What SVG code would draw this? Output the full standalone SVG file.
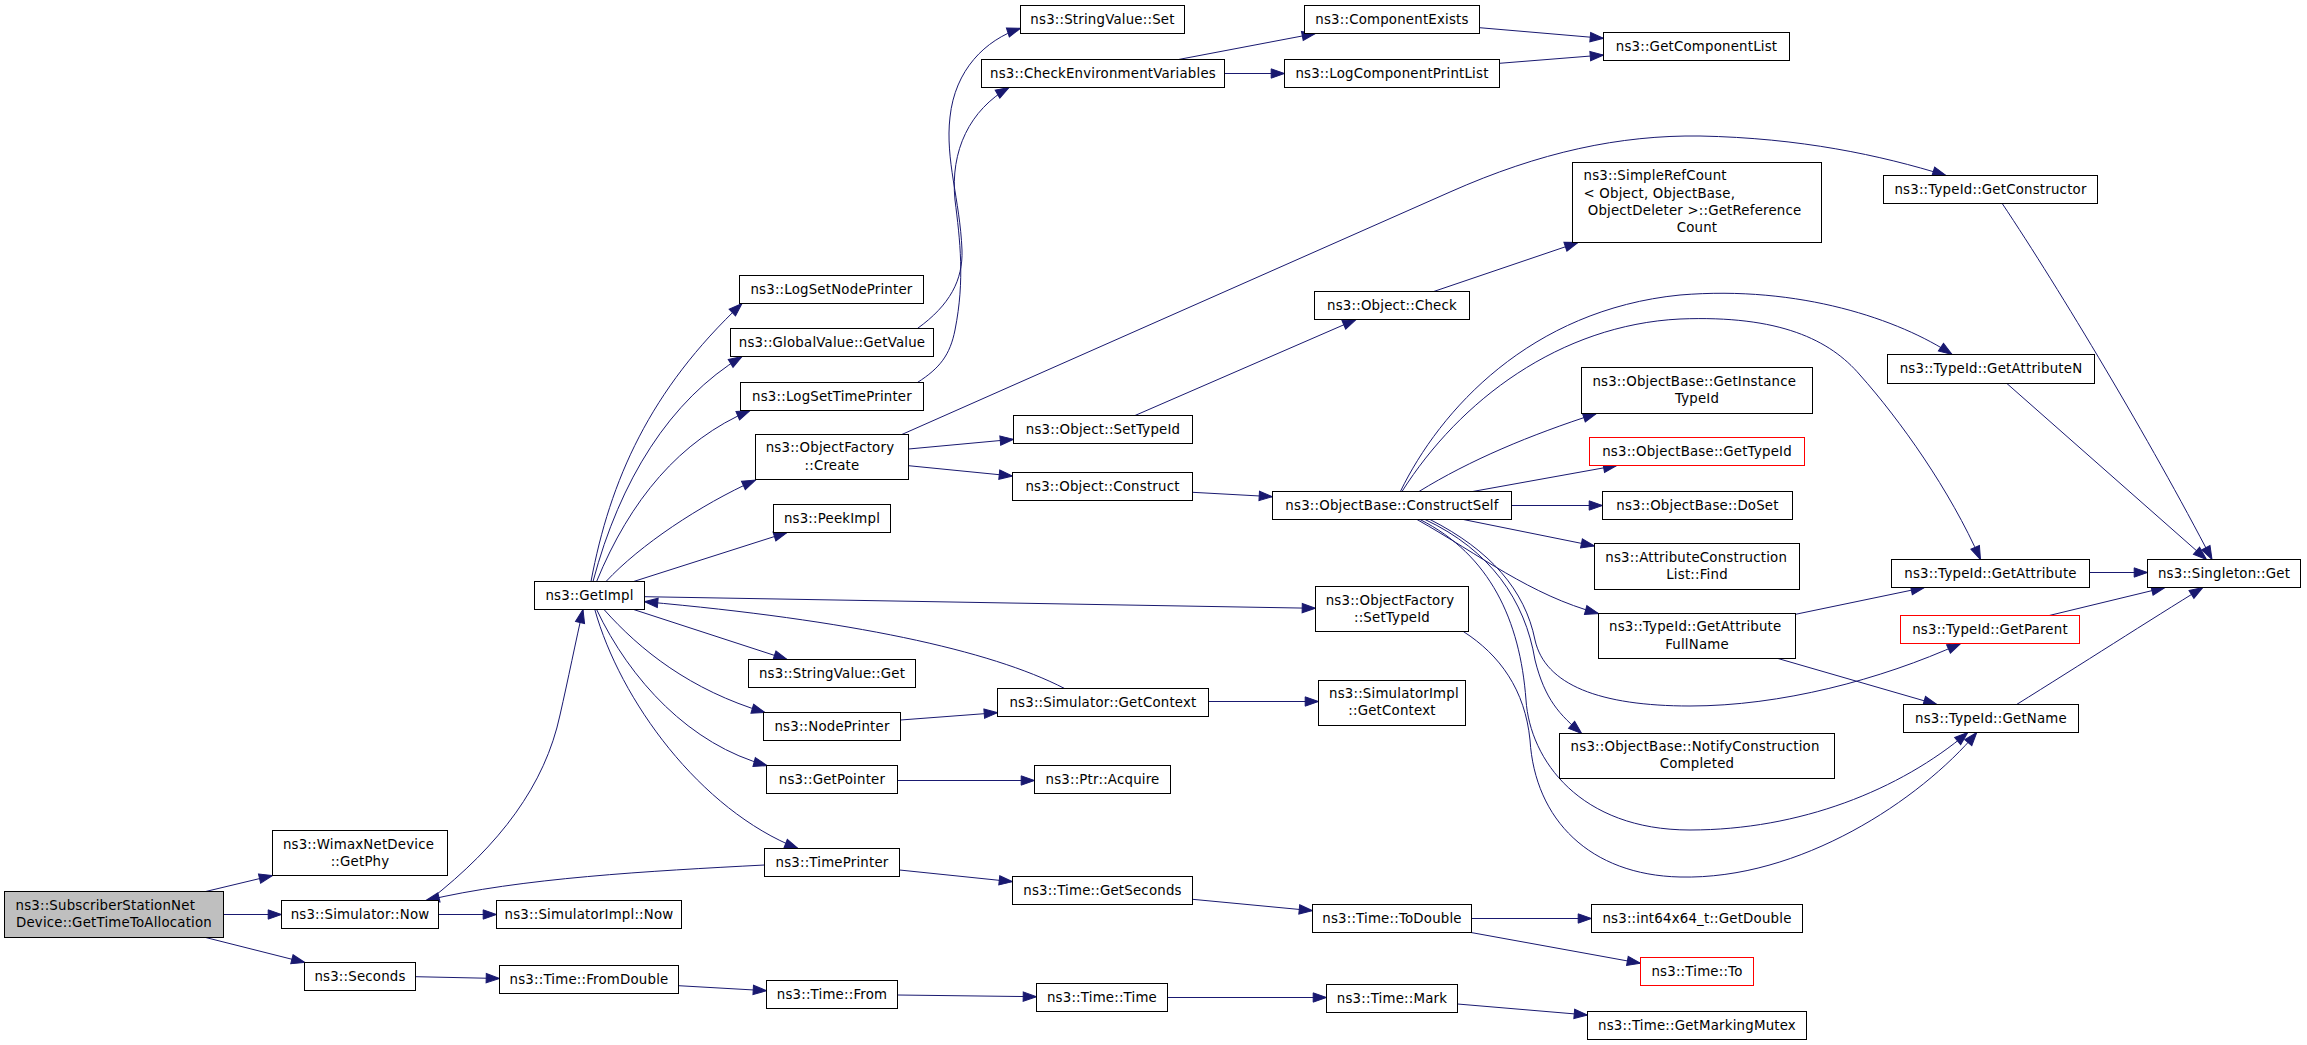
<svg xmlns="http://www.w3.org/2000/svg" width="2307" height="1045" viewBox="0 0 2307 1045">
<style>
.n rect{fill:#fff;stroke:#000;stroke-width:1}
.n.root rect{fill:#bfbfbf}
.n.red rect{stroke:#ff0000}
.n text{font-family:"DejaVu Sans",sans-serif;font-size:13.33px;letter-spacing:0.2px;fill:#000}
.n text.c{text-anchor:middle}
.e path{fill:none;stroke:#191970;stroke-width:1;marker-end:url(#a)}
</style>
<defs>
<marker id="a" markerUnits="userSpaceOnUse" markerWidth="16" markerHeight="12" refX="13.3" refY="4.65" orient="auto" overflow="visible">
<path d="M0,0 L13.3,4.65 L0,9.3 z" fill="#191970" stroke="#191970" stroke-width="1"/>
</marker>
</defs>
<rect x="0" y="0" width="2307" height="1045" fill="#fff"/>
<g id="edges" class="e">
<path d="M205.7,891.5 L272.5,875.5"/>
<path d="M224,914.5 L281.5,914.5"/>
<path d="M205.7,937.5 L304.8,962.5"/>
<path d="M438.5,914.5 L496.5,914.5"/>
<path d="M415.5,976.7 L499.5,978.5"/>
<path d="M429,900.5 C500,845 545,785 560,715 C568,680 576,640 583,609.5"/>
<path d="M764.5,865 C650,871 520,878 426,900.5"/>
<path d="M591,581.5 C610,480 650,390 742,303.5"/>
<path d="M593,581.5 C620,480 670,400 742,356.5"/>
<path d="M596.6,581.5 C630,500 680,440 750,410.5"/>
<path d="M606,581.5 C640,545 700,505 755.5,480"/>
<path d="M633.6,581.5 L787.1,532.5"/>
<path d="M633.6,609.5 L787.1,659.5"/>
<path d="M644.5,596.7 L1315.5,608.3"/>
<path d="M1064.6,688.5 C990,650 850,620 644.5,601.7"/>
<path d="M604,609.5 C640,650 690,690 765,712.5"/>
<path d="M596.6,609.5 C630,680 690,745 767,765.5"/>
<path d="M594.8,609.5 C620,700 700,810 798,848.5"/>
<path d="M900.5,720 L997.5,712.7"/>
<path d="M897.5,780.5 L1034.5,780.5"/>
<path d="M899.5,870 L1012.5,881.7"/>
<path d="M678.5,985.7 L766.5,990.7"/>
<path d="M897.5,995 L1036.5,996.7"/>
<path d="M1208.5,701.5 L1318.5,701.5"/>
<path d="M1192.5,899.3 L1312.5,910.7"/>
<path d="M1471.5,918.5 L1591.5,918.5"/>
<path d="M1471,932.5 L1640.5,963.3"/>
<path d="M1167.5,997.5 L1326.5,997.5"/>
<path d="M1457.5,1004 L1587.5,1015"/>
<path d="M908.5,449 L1013.5,439.3"/>
<path d="M908.5,465.7 L1012.5,476"/>
<path d="M901.8,434.5 L1450,192 C1540,152 1620,135 1700,136 C1800,138 1880,155 1946,175.5"/>
<path d="M917.4,382.5 C940,368 950,355 955,330 C965,280 960,240 955,200 C950,150 970,110 1009,87.5"/>
<path d="M917.4,328.5 C950,305 963,280 962,250 C960,200 945,160 950,117 C955,70 985,40 1020.5,28.3"/>
<path d="M1135,415.5 L1356,319.5"/>
<path d="M1433.7,291.5 L1578,242.5"/>
<path d="M1192.5,492.3 L1272.5,496.7"/>
<path d="M1419,491.5 C1470,460 1530,435 1596.5,413.5"/>
<path d="M1472.6,491.5 L1616.8,465.5"/>
<path d="M1511.5,505.5 L1602.5,505.5"/>
<path d="M1463.3,519.5 L1594.5,546"/>
<path d="M1417,519.5 C1480,555 1530,595 1598.5,613.5"/>
<path d="M1400.4,491.5 C1440,410 1530,310 1680,295 C1800,285 1900,320 1952,354.5"/>
<path d="M1402,491.5 C1460,400 1560,325 1680,319 C1780,315 1830,340 1860,375 C1900,420 1950,490 1980.5,559.5"/>
<path d="M2006.9,383.5 L2206.5,559.5"/>
<path d="M2002.2,203.5 C2060,290 2150,440 2212,559.5"/>
<path d="M2089.5,572.5 L2147.5,572.5"/>
<path d="M2049.2,615.5 L2164.9,587.5"/>
<path d="M2016.6,704.5 C2080,665 2150,620 2202.8,587.5"/>
<path d="M1795.5,614.3 L1924.4,587.5"/>
<path d="M1778,658.5 L1937,704.5"/>
<path d="M1430,519.5 C1490,550 1525,590 1535,640 C1545,685 1600,706 1690,706 C1780,706 1880,680 1960.6,643.5"/>
<path d="M1425,519.5 C1490,550 1525,600 1535,660 C1545,700 1560,715 1581.7,733.5"/>
<path d="M1420,519.5 C1490,555 1520,620 1526,700 C1530,760 1580,830 1690,830 C1800,830 1900,790 1967.8,732.5"/>
<path d="M1463.3,631.5 C1500,655 1525,690 1530,740 C1535,820 1590,875 1680,877 C1800,880 1920,800 1976.8,732.5"/>
<path d="M1479.5,27.7 L1603.5,38.3"/>
<path d="M1499.5,63.3 L1603.5,55"/>
<path d="M1178.5,59.5 L1315.4,33.5"/>
<path d="M1224.5,73.5 L1284.5,73.5"/>
</g>
<g id="n0" class="n root"><rect x="4.5" y="891.5" width="219" height="46"/><text x="15.5" y="909.5">ns3::SubscriberStationNet</text><text class="c" x="114" y="926.9">Device::GetTimeToAllocation</text></g>
<g id="n1" class="n"><rect x="272.5" y="830.5" width="175" height="45"/><text x="282.9" y="848.5">ns3::WimaxNetDevice</text><text class="c" x="360" y="865.9">::GetPhy</text></g>
<g id="n2" class="n"><rect x="281.5" y="900.5" width="157" height="28"/><text class="c" x="360" y="918.6">ns3::Simulator::Now</text></g>
<g id="n3" class="n"><rect x="304.5" y="962.5" width="111" height="28"/><text class="c" x="360" y="980.6">ns3::Seconds</text></g>
<g id="n4" class="n"><rect x="496.5" y="900.5" width="185" height="28"/><text class="c" x="589" y="918.6">ns3::SimulatorImpl::Now</text></g>
<g id="n5" class="n"><rect x="499.5" y="965.5" width="179" height="28"/><text class="c" x="589" y="983.8">ns3::Time::FromDouble</text></g>
<g id="n6" class="n"><rect x="534.5" y="581.5" width="110" height="28"/><text class="c" x="589.5" y="599.8">ns3::GetImpl</text></g>
<g id="n7" class="n"><rect x="739.5" y="275.5" width="184" height="28"/><text class="c" x="831.5" y="293.8">ns3::LogSetNodePrinter</text></g>
<g id="n8" class="n"><rect x="730.5" y="328.5" width="203" height="28"/><text class="c" x="832" y="346.8">ns3::GlobalValue::GetValue</text></g>
<g id="n9" class="n"><rect x="740.5" y="382.5" width="183" height="28"/><text class="c" x="832" y="400.8">ns3::LogSetTimePrinter</text></g>
<g id="n10" class="n"><rect x="755.5" y="434.5" width="153" height="45"/><text x="765.7" y="452.1">ns3::ObjectFactory</text><text class="c" x="832" y="469.5">::Create</text></g>
<g id="n11" class="n"><rect x="773.5" y="504.5" width="117" height="28"/><text class="c" x="832" y="522.8">ns3::PeekImpl</text></g>
<g id="n12" class="n"><rect x="748.5" y="659.5" width="167" height="28"/><text class="c" x="832" y="677.8">ns3::StringValue::Get</text></g>
<g id="n13" class="n"><rect x="763.5" y="712.5" width="137" height="28"/><text class="c" x="832" y="730.8">ns3::NodePrinter</text></g>
<g id="n14" class="n"><rect x="766.5" y="765.5" width="131" height="28"/><text class="c" x="832" y="783.8">ns3::GetPointer</text></g>
<g id="n15" class="n"><rect x="764.5" y="848.5" width="135" height="28"/><text class="c" x="832" y="866.8">ns3::TimePrinter</text></g>
<g id="n16" class="n"><rect x="766.5" y="980.5" width="131" height="28"/><text class="c" x="832" y="998.8">ns3::Time::From</text></g>
<g id="n17" class="n"><rect x="1020.5" y="5.5" width="164" height="28"/><text class="c" x="1102.5" y="23.8">ns3::StringValue::Set</text></g>
<g id="n18" class="n"><rect x="981.5" y="59.5" width="243" height="28"/><text class="c" x="1103" y="77.8">ns3::CheckEnvironmentVariables</text></g>
<g id="n19" class="n"><rect x="1013.5" y="415.5" width="179" height="28"/><text class="c" x="1103" y="433.8">ns3::Object::SetTypeId</text></g>
<g id="n20" class="n"><rect x="1012.5" y="472.5" width="180" height="28"/><text class="c" x="1102.5" y="490.8">ns3::Object::Construct</text></g>
<g id="n21" class="n"><rect x="997.5" y="688.5" width="211" height="28"/><text class="c" x="1103" y="706.8">ns3::Simulator::GetContext</text></g>
<g id="n22" class="n"><rect x="1034.5" y="765.5" width="136" height="28"/><text class="c" x="1102.5" y="783.8">ns3::Ptr::Acquire</text></g>
<g id="n23" class="n"><rect x="1012.5" y="876.5" width="180" height="28"/><text class="c" x="1102.5" y="894.8">ns3::Time::GetSeconds</text></g>
<g id="n24" class="n"><rect x="1036.5" y="983.5" width="131" height="28"/><text class="c" x="1102" y="1001.8">ns3::Time::Time</text></g>
<g id="n25" class="n"><rect x="1304.5" y="5.5" width="175" height="28"/><text class="c" x="1392" y="23.8">ns3::ComponentExists</text></g>
<g id="n26" class="n"><rect x="1284.5" y="59.5" width="215" height="28"/><text class="c" x="1392" y="77.8">ns3::LogComponentPrintList</text></g>
<g id="n27" class="n"><rect x="1314.5" y="291.5" width="155" height="28"/><text class="c" x="1392" y="309.8">ns3::Object::Check</text></g>
<g id="n28" class="n"><rect x="1272.5" y="491.5" width="239" height="28"/><text class="c" x="1392" y="509.8">ns3::ObjectBase::ConstructSelf</text></g>
<g id="n29" class="n"><rect x="1315.5" y="586.5" width="153" height="45"/><text x="1325.7" y="604.5">ns3::ObjectFactory</text><text class="c" x="1392" y="621.9">::SetTypeId</text></g>
<g id="n30" class="n"><rect x="1318.5" y="680.5" width="147" height="45"/><text x="1329" y="698">ns3::SimulatorImpl</text><text class="c" x="1392" y="715.4">::GetContext</text></g>
<g id="n31" class="n"><rect x="1312.5" y="904.5" width="159" height="28"/><text class="c" x="1392" y="922.8">ns3::Time::ToDouble</text></g>
<g id="n32" class="n"><rect x="1326.5" y="984.5" width="131" height="28"/><text class="c" x="1392" y="1002.8">ns3::Time::Mark</text></g>
<g id="n33" class="n"><rect x="1603.5" y="32.5" width="186" height="28"/><text class="c" x="1696.5" y="50.8">ns3::GetComponentList</text></g>
<g id="n34" class="n"><rect x="1572.5" y="162.5" width="249" height="80"/><text x="1583.5" y="180.3">ns3::SimpleRefCount</text><text x="1583.5" y="197.6">&lt; Object, ObjectBase,</text><text x="1587.7" y="214.9">ObjectDeleter &gt;::GetReference</text><text class="c" x="1697" y="232.2">Count</text></g>
<g id="n35" class="n"><rect x="1581.5" y="367.5" width="231" height="46"/><text x="1592.4" y="385.5">ns3::ObjectBase::GetInstance</text><text class="c" x="1697" y="402.9">TypeId</text></g>
<g id="n36" class="n red"><rect x="1589.5" y="437.5" width="215" height="28"/><text class="c" x="1697" y="455.8">ns3::ObjectBase::GetTypeId</text></g>
<g id="n37" class="n"><rect x="1602.5" y="491.5" width="190" height="28"/><text class="c" x="1697.5" y="509.8">ns3::ObjectBase::DoSet</text></g>
<g id="n38" class="n"><rect x="1594.5" y="543.5" width="205" height="46"/><text x="1605.3" y="561.5">ns3::AttributeConstruction</text><text class="c" x="1697" y="578.9">List::Find</text></g>
<g id="n39" class="n"><rect x="1598.5" y="613.5" width="197" height="45"/><text x="1609" y="631.1">ns3::TypeId::GetAttribute</text><text class="c" x="1697" y="648.5">FullName</text></g>
<g id="n40" class="n"><rect x="1559.5" y="733.5" width="275" height="45"/><text x="1570.6" y="751">ns3::ObjectBase::NotifyConstruction</text><text class="c" x="1697" y="768.4">Completed</text></g>
<g id="n41" class="n"><rect x="1591.5" y="904.5" width="211" height="28"/><text class="c" x="1697" y="922.8">ns3::int64x64_t::GetDouble</text></g>
<g id="n42" class="n red"><rect x="1640.5" y="957.5" width="113" height="28"/><text class="c" x="1697" y="975.8">ns3::Time::To</text></g>
<g id="n43" class="n"><rect x="1587.5" y="1011.5" width="219" height="28"/><text class="c" x="1697" y="1029.8">ns3::Time::GetMarkingMutex</text></g>
<g id="n44" class="n"><rect x="1883.5" y="175.5" width="214" height="28"/><text class="c" x="1990.5" y="193.8">ns3::TypeId::GetConstructor</text></g>
<g id="n45" class="n"><rect x="1887.5" y="354.5" width="207" height="29"/><text class="c" x="1991" y="373">ns3::TypeId::GetAttributeN</text></g>
<g id="n46" class="n"><rect x="1891.5" y="559.5" width="198" height="28"/><text class="c" x="1990.5" y="577.8">ns3::TypeId::GetAttribute</text></g>
<g id="n47" class="n red"><rect x="1900.5" y="615.5" width="179" height="28"/><text class="c" x="1990" y="633.8">ns3::TypeId::GetParent</text></g>
<g id="n48" class="n"><rect x="1903.5" y="704.5" width="175" height="28"/><text class="c" x="1991" y="722.8">ns3::TypeId::GetName</text></g>
<g id="n49" class="n"><rect x="2147.5" y="559.5" width="153" height="28"/><text class="c" x="2224" y="577.8">ns3::Singleton::Get</text></g>
</svg>
